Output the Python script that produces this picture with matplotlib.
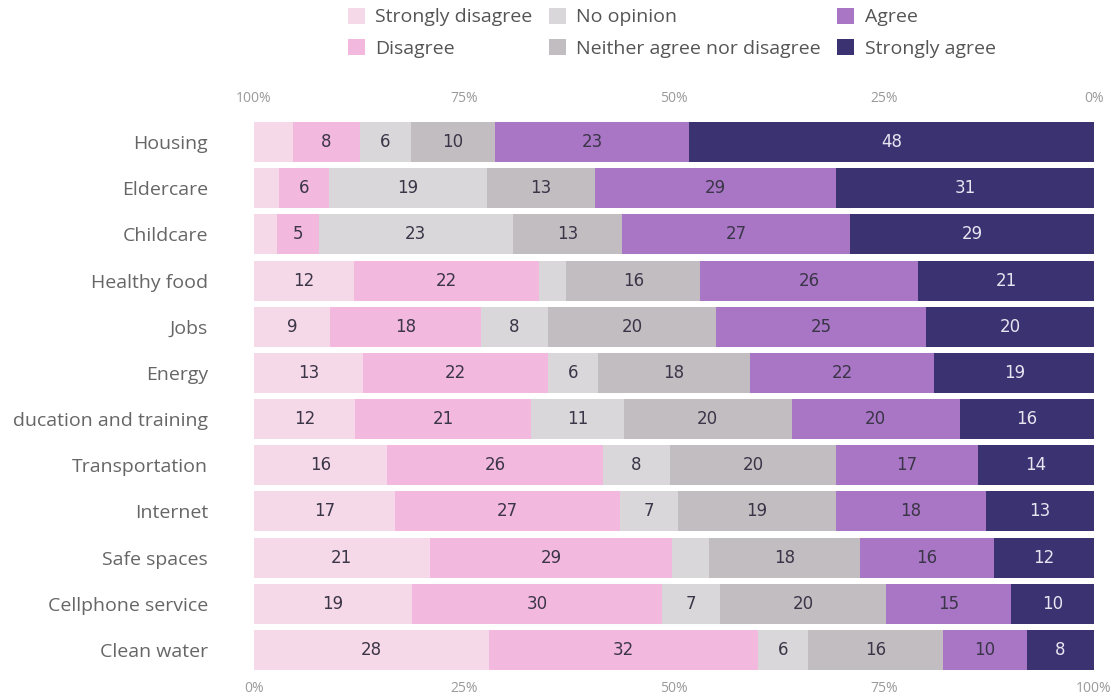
import matplotlib
matplotlib.use("Agg")
import matplotlib.pyplot as plt
from matplotlib.patches import Patch
from matplotlib.transforms import Bbox, TransformedBbox
import numpy as np

categories = ["Housing", "Eldercare", "Childcare", "Healthy food", "Jobs", "Energy",
              "Education and training", "Transportation", "Internet", "Safe spaces",
              "Cellphone service", "Clean water"]
series_names = ["Strongly disagree", "Disagree", "No opinion",
                "Neither agree nor disagree", "Agree", "Strongly agree"]
strongly_disagree = [4.6, 3, 2.7, 12, 9, 13, 12, 16, 17, 21, 19, 28]
disagree = [8, 6, 5, 22, 18, 22, 21, 26, 27, 29, 30, 32]
no_opinion = [6, 19, 23, 3.3, 8, 6, 11, 8, 7, 4.4, 7, 6]
neither = [10, 13, 13, 16, 20, 18, 20, 20, 19, 18, 20, 16]
agree = [23, 29, 27, 26, 25, 22, 20, 17, 18, 16, 15, 10]
strongly_agree = [48, 31, 29, 21, 20, 19, 16, 14, 13, 12, 10, 8]
bottom_ticks = ["0%", "25%", "50%", "75%", "100%"]
top_ticks = ["100%", "75%", "50%", "25%", "0%"]

colors = ["#f6d9e8", "#f3b8de", "#d9d7da", "#c1bdc1", "#a976c6", "#3b3272"]
text_colors = ["#3a3547"] * 5 + ["#e8e4f0"]
series = [strongly_disagree, disagree, no_opinion, neither, agree, strongly_agree]

raw = np.array(series, dtype=float)
totals = raw.sum(axis=0)
share = raw / totals * 100

fig = plt.figure(figsize=(11.2, 7), dpi=100)
ax = fig.add_axes([254 / 1120, 27 / 700, 840 / 1120, 554 / 700])

y = np.arange(len(categories))
left = np.zeros(len(categories))
for vals, pct, col, tc in zip(raw, share, colors, text_colors):
    ax.barh(y, pct, left=left, height=0.87, color=col, edgecolor="none")
    for yi, (l, p, v) in enumerate(zip(left, pct, vals)):
        if v >= 5:
            ax.text(l + p / 2, yi, f"{v:g}", ha="center", va="center",
                    fontsize=12, color=tc, family="DejaVu Sans")
    left += pct

ax.set_xlim(0, 100)
ax.set_ylim(len(categories) - 0.5, -0.5)
ax.set_yticks(y)
ax.set_yticklabels(categories, fontsize=14, color="#666666", family="Open Sans")
ax.tick_params(axis="y", length=0, pad=33)
ax.set_xticks(np.linspace(0, 100, 5))
ax.set_xticklabels(bottom_ticks, fontsize=10, color="#9a9a9a", family="Open Sans")
ax.tick_params(axis="x", length=0, pad=6)
for s in ax.spines.values():
    s.set_visible(False)

ax2 = ax.twiny()
ax2.set_xlim(100, 0)
ax2.set_xticks(np.linspace(100, 0, 5))
ax2.set_xticklabels(top_ticks, fontsize=10, color="#9a9a9a", family="Open Sans")
ax2.tick_params(axis="x", length=0, pad=9)
for s in ax2.spines.values():
    s.set_visible(False)

handles = [Patch(facecolor=c, edgecolor="none") for c in colors]
leg = fig.legend(handles, series_names, ncol=3, loc="upper left",
                 bbox_to_anchor=(348 / 1120, 1 - 8 / 700), frameon=False,
                 prop={"family": "Open Sans", "size": 14},
                 handlelength=0.85, handleheight=0.85, handletextpad=0.55,
                 columnspacing=0.85, labelspacing=0.66, borderpad=0, borderaxespad=0)
for t in leg.get_texts():
    t.set_color("#555555")

# the source image crops the label column at its left edge
fig.canvas.draw()
clip = TransformedBbox(Bbox.from_extents(12 / 1120, 0, 1, 1), fig.transFigure)
for lab in ax.get_yticklabels():
    lab.set_clip_box(clip)
    lab.set_clip_on(True)

fig.savefig("out.png", dpi=100)
